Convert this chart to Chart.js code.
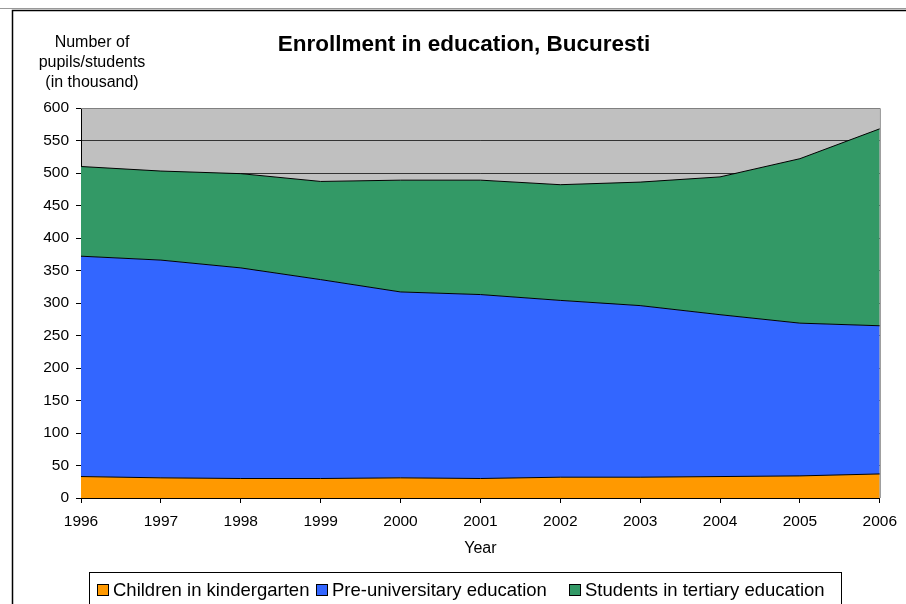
<!DOCTYPE html>
<html>
<head>
<meta charset="utf-8">
<script src="https://cdn.jsdelivr.net/npm/chart.js@4"></script>
<style>
  body { margin: 0; background: #fff; }
</style>
</head>
<body>
<canvas id="chartEnroll" width="906" height="604"></canvas>
<script>
const years = ['1996', '1997', '1998', '1999', '2000', '2001', '2002', '2003', '2004', '2005', '2006']
// thousands
const kindergarten = [33, 31, 30, 30, 31, 30, 32, 32, 33, 34, 37]
const preUniversity = [339, 335, 324, 306, 286, 283, 272, 264, 249, 235, 228]
const tertiary = [138, 137, 145, 151, 172, 176, 178, 190, 212, 253, 303]
const seriesNames = ['Children in kindergarten', 'Pre-universitary education', 'Students in tertiary education']
const yTitle = ['Number of', 'pupils/students', '(in thousand)']

const fontFamily = "'Liberation Sans', Arial, sans-serif"
const colors = ['#FF9900', '#3366FF', '#339966']
const plotGray = '#C0C0C0'

Chart.defaults.color = '#000'
Chart.defaults.font.family = fontFamily

const frame = {
    id: 'frame',
    beforeDraw(chart) {
        const c = chart.ctx
        const a = chart.chartArea
        c.save()
        c.fillStyle = '#fff'
        c.fillRect(0, 0, chart.width, chart.height)
        c.strokeStyle = '#999'
        c.lineWidth = 1
        c.beginPath()
        c.moveTo(0, 8.5)
        c.lineTo(chart.width, 8.5)
        c.stroke()
        c.strokeStyle = '#000'
        c.lineWidth = 1.5
        c.beginPath()
        c.moveTo(12.5, chart.height)
        c.lineTo(12.5, 10.5)
        c.lineTo(chart.width, 10.5)
        c.stroke()
        c.fillStyle = plotGray
        c.fillRect(a.left, a.top, a.right - a.left, a.bottom - a.top)
        c.restore()
    },
    afterDatasetsDraw(chart) {
        const c = chart.ctx
        const a = chart.chartArea
        c.save()
        c.strokeStyle = '#808080'
        c.lineWidth = 1
        c.beginPath()
        c.moveTo(a.left, a.top + 0.5)
        c.lineTo(a.right + 0.5, a.top + 0.5)
        c.lineTo(a.right + 0.5, a.bottom)
        c.stroke()
        c.restore()
    },
    afterDraw(chart) {
        const c = chart.ctx
        c.save()
        c.fillStyle = '#000'
        c.textAlign = 'center'
        c.textBaseline = 'middle'
        c.font = 'bold 22.5px ' + fontFamily
        c.fillText('Enrollment in education, Bucuresti', 464, 45)
        c.font = '16px ' + fontFamily
        yTitle.forEach((t, i) => c.fillText(t, 92, 43 + i * 20))

        // legend
        c.strokeStyle = '#000'
        c.lineWidth = 1
        c.strokeRect(89.5, 572.5, 752, 40)
        const boxX = [97, 316, 569]
        c.font = '18.5px ' + fontFamily
        c.textAlign = 'left'
        chart.data.datasets.forEach((ds, i) => {
            c.fillStyle = ds.backgroundColor
            c.fillRect(boxX[i] + 0.5, 584.5, 11, 11)
            c.strokeRect(boxX[i] + 0.5, 584.5, 11, 11)
            c.fillStyle = '#000'
            c.fillText(ds.label, boxX[i] + 16, 591)
        })
        c.restore()
    }
}

const datasets = [kindergarten, preUniversity, tertiary].map((vals, i) => ({
    label: seriesNames[i],
    data: vals,
    backgroundColor: colors[i],
    borderColor: '#000',
    borderWidth: 1,
    fill: i === 0 ? 'origin' : '-1',
    pointRadius: 0,
    tension: 0
}))

new Chart(document.getElementById('chartEnroll'), {
    type: 'line',
    data: {
        labels: years,
        datasets: datasets
    },
    options: {
        responsive: false,
        animation: false,
        layout: {
            padding: { left: 0, top: 108, right: 26, bottom: 44 }
        },
        plugins: {
            legend: { display: false },
            title: { display: false },
            tooltip: { enabled: false }
        },
        scales: {
            x: {
                offset: false,
                grid: {
                    drawOnChartArea: false,
                    tickLength: 5,
                    tickColor: '#000'
                },
                border: { color: '#000' },
                ticks: {
                    autoSkip: false,
                    maxRotation: 0,
                    padding: 9,
                    font: { size: 15.5 }
                },
                title: {
                    display: true,
                    text: 'Year',
                    font: { size: 16 },
                    padding: { top: 4, bottom: 2 }
                },
                afterFit(scale) { scale.height = 62 }
            },
            y: {
                stacked: true,
                min: 0,
                max: 600,
                grid: {
                    color: (ctx) => ctx.tick && ctx.tick.value === 600 ? '#808080' : '#333',
                    tickLength: 5,
                    tickColor: '#000'
                },
                border: { color: '#000' },
                ticks: {
                    stepSize: 50,
                    padding: 7,
                    font: { size: 15.5 }
                },
                afterFit(scale) { scale.width = 81 }
            }
        }
    },
    plugins: [frame]
})
</script>
</body>
</html>
